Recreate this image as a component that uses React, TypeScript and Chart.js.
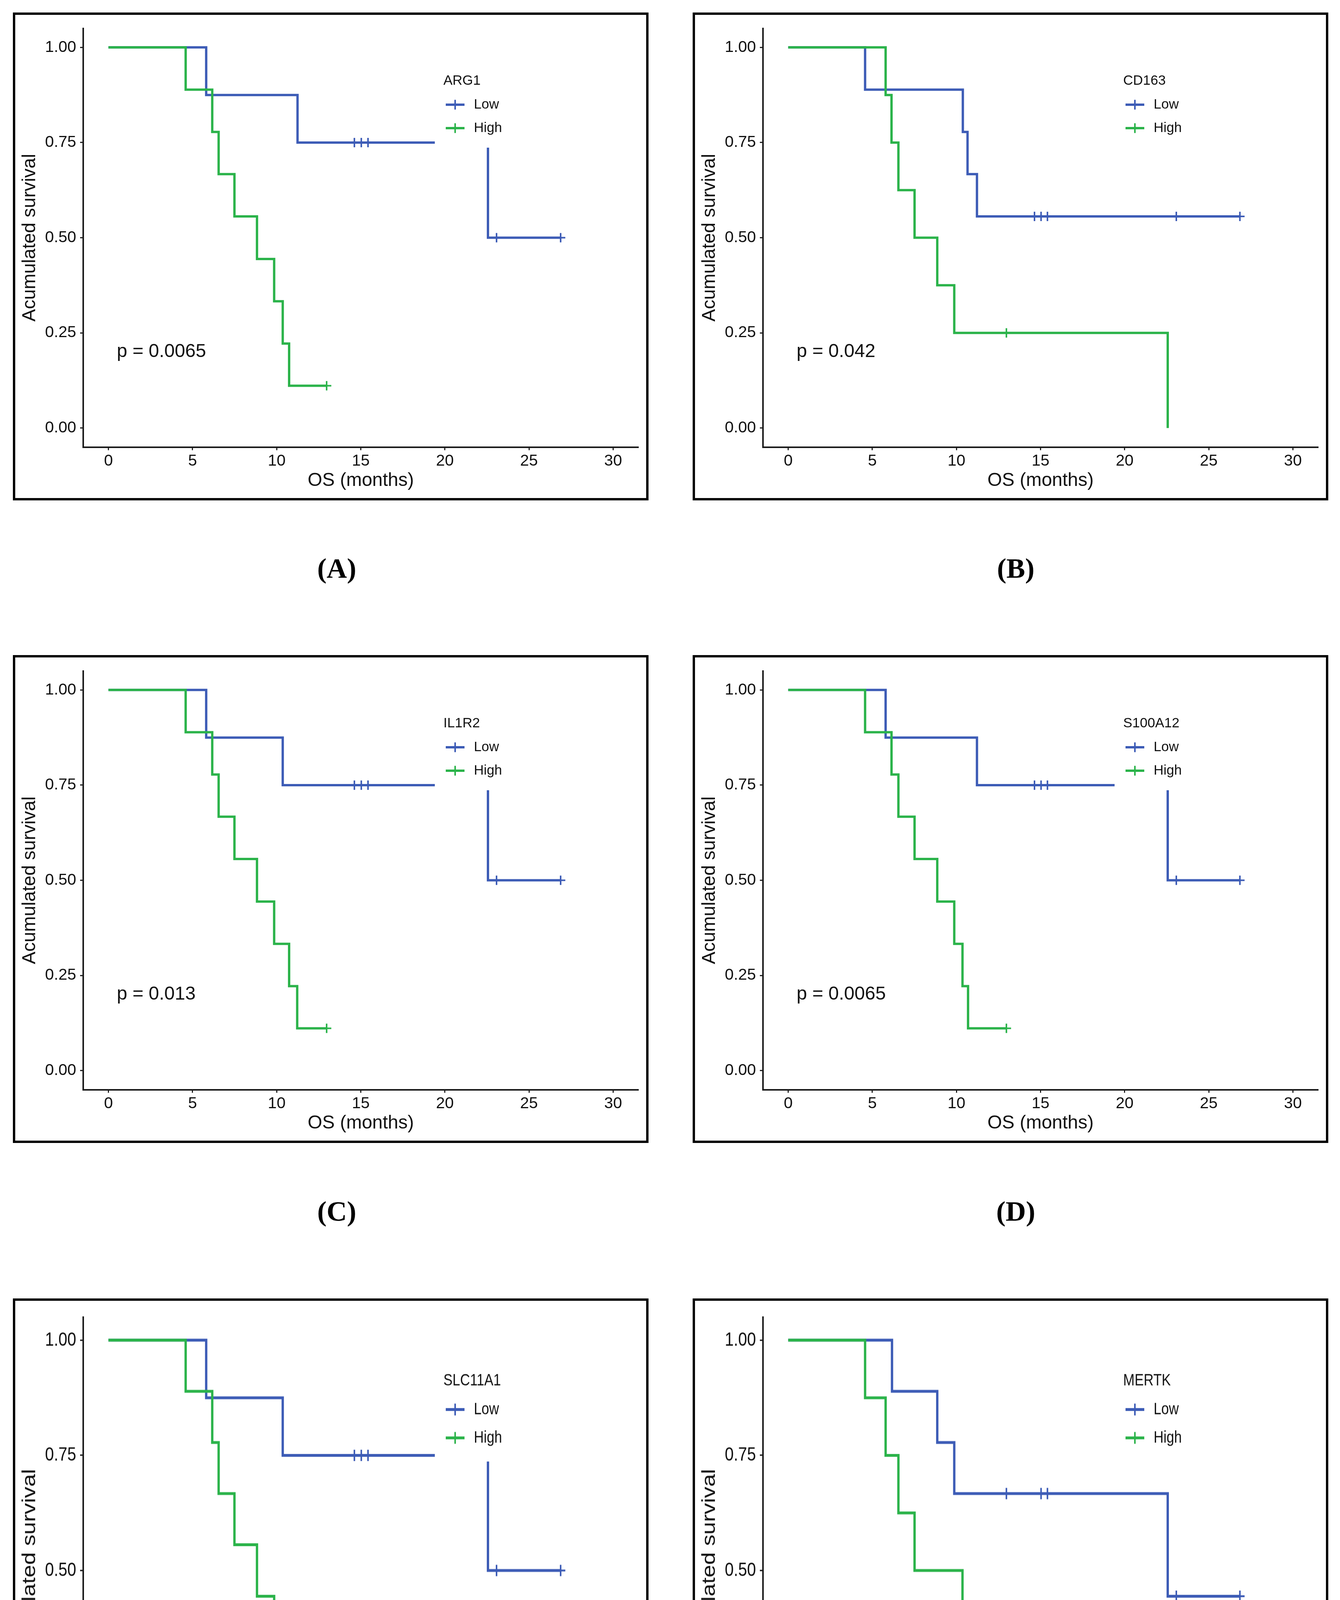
import React, { useEffect, useRef } from 'react';
import { Chart, registerables } from 'chart.js';

Chart.register(...registerables);

// ---------- shared axis content ----------
const xTicks = [0, 5, 10, 15, 20, 25, 30];
const yTicks = [0, 0.25, 0.5, 0.75, 1];
const yTickLabels = ['0.00', '0.25', '0.50', '0.75', '1.00'];
const xTitle = 'OS (months)';
const yTitle = 'Acumulated survival';
const groupLabels = ['Low', 'High'];
const panelLetters = ['(A)', '(B)', '(C)', '(D)', '(E)', '(F)'];
const markers = ['ARG1', 'CD163', 'IL1R2', 'S100A12', 'SLC11A1', 'MERTK'];
const pValues = ['p = 0.0065', 'p = 0.042', 'p = 0.013', 'p = 0.0065', 'p = 0.013', 'p = 0.036'];

// ---------- (A) ARG1 ----------
const argLowT = [0, 5.81, 11.24, 22.56, 26.88];
const argLowS = [1, 0.875, 0.75, 0.5, 0.5];
const argLowCT = [14.62, 15.03, 15.43, 23.07, 26.88];
const argLowCS = [0.75, 0.75, 0.75, 0.5, 0.5];
const argHighT = [0, 4.59, 6.17, 6.55, 7.49, 8.83, 9.85, 10.36, 10.74, 12.97];
const argHighS = [1, 0.889, 0.778, 0.667, 0.556, 0.444, 0.333, 0.222, 0.111, 0.111];
const argHighCT = [12.97];
const argHighCS = [0.111];

// ---------- (B) CD163 ----------
const cdLowT = [0, 4.57, 10.38, 10.66, 11.22, 26.85];
const cdLowS = [1, 0.889, 0.778, 0.667, 0.556, 0.556];
const cdLowCT = [14.64, 15.03, 15.41, 23.07, 26.85];
const cdLowCS = [0.556, 0.556, 0.556, 0.556, 0.556];
const cdHighT = [0, 5.79, 6.14, 6.55, 7.51, 8.86, 9.87, 22.56];
const cdHighS = [1, 0.875, 0.75, 0.625, 0.5, 0.375, 0.25, 0];
const cdHighCT = [12.97];
const cdHighCS = [0.25];

// ---------- (C) IL1R2 ----------
const ilLowT = [0, 5.81, 10.36, 22.56, 26.88];
const ilLowS = [1, 0.875, 0.75, 0.5, 0.5];
const ilLowCT = [14.62, 15.03, 15.43, 23.07, 26.88];
const ilLowCS = [0.75, 0.75, 0.75, 0.5, 0.5];
const ilHighT = [0, 4.59, 6.17, 6.55, 7.49, 8.83, 9.85, 10.74, 11.22, 12.97];
const ilHighS = [1, 0.889, 0.778, 0.667, 0.556, 0.444, 0.333, 0.222, 0.111, 0.111];
const ilHighCT = [12.97];
const ilHighCS = [0.111];

// ---------- (D) S100A12 ----------
const s1LowT = [0, 5.79, 11.22, 22.56, 26.85];
const s1LowS = [1, 0.875, 0.75, 0.5, 0.5];
const s1LowCT = [14.64, 15.03, 15.41, 23.07, 26.85];
const s1LowCS = [0.75, 0.75, 0.75, 0.5, 0.5];
const s1HighT = [0, 4.57, 6.14, 6.55, 7.51, 8.86, 9.87, 10.36, 10.69, 12.97];
const s1HighS = [1, 0.889, 0.778, 0.667, 0.556, 0.444, 0.333, 0.222, 0.111, 0.111];
const s1HighCT = [12.97];
const s1HighCS = [0.111];

// ---------- (E) SLC11A1 ----------
const slLowT = [0, 5.81, 10.36, 22.56, 26.88];
const slLowS = [1, 0.875, 0.75, 0.5, 0.5];
const slLowCT = [14.62, 15.03, 15.43, 23.07, 26.88];
const slLowCS = [0.75, 0.75, 0.75, 0.5, 0.5];
const slHighT = [0, 4.59, 6.17, 6.55, 7.49, 8.83, 9.85, 10.74, 11.22, 12.97];
const slHighS = [1, 0.889, 0.778, 0.667, 0.556, 0.444, 0.333, 0.222, 0.111, 0.111];
const slHighCT = [12.97];
const slHighCS = [0.111];

// ---------- (F) MERTK ----------
const meLowT = [0, 6.17, 8.86, 9.87, 22.56, 26.85];
const meLowS = [1, 0.889, 0.778, 0.667, 0.444, 0.444];
const meLowCT = [12.97, 15.03, 15.41, 23.07, 26.85];
const meLowCS = [0.667, 0.667, 0.667, 0.444, 0.444];
const meHighT = [0, 4.57, 5.79, 6.55, 7.51, 10.36, 10.69, 11.22, 14.67];
const meHighS = [1, 0.875, 0.75, 0.625, 0.5, 0.375, 0.25, 0.125, 0.125];
const meHighCT = [14.67];
const meHighCS = [0.125];

const BLUE = '#3D5CB6';
const GREEN = '#2BB34A';
const SANS = '"Liberation Sans", Arial, Helvetica, sans-serif';
const SERIF = '"Liberation Serif", "Times New Roman", serif';

const panels = [
  { lowT: argLowT, lowS: argLowS, lowCT: argLowCT, lowCS: argLowCS, highT: argHighT, highS: argHighS, highCT: argHighCT, highCS: argHighCS },
  { lowT: cdLowT, lowS: cdLowS, lowCT: cdLowCT, lowCS: cdLowCS, highT: cdHighT, highS: cdHighS, highCT: cdHighCT, highCS: cdHighCS },
  { lowT: ilLowT, lowS: ilLowS, lowCT: ilLowCT, lowCS: ilLowCS, highT: ilHighT, highS: ilHighS, highCT: ilHighCT, highCS: ilHighCS },
  { lowT: s1LowT, lowS: s1LowS, lowCT: s1LowCT, lowCS: s1LowCS, highT: s1HighT, highS: s1HighS, highCT: s1HighCT, highCS: s1HighCS },
  { lowT: slLowT, lowS: slLowS, lowCT: slLowCT, lowCS: slLowCS, highT: slHighT, highS: slHighS, highCT: slHighCT, highCS: slHighCS },
  { lowT: meLowT, lowS: meLowS, lowCT: meLowCT, lowCS: meLowCS, highT: meHighT, highS: meHighS, highCT: meHighCT, highCS: meHighCS },
];

const CANVAS_W = 1615;
const CANVAS_H = 1237;
const BORDER = 6;

const toPts = (t: number[], s: number[]) => t.map((x, i) => ({ x, y: s[i] }));

const kmDecor = {
  id: 'kmDecor',
  afterDatasetsDraw(chart: any, _args: any, opts: any) {
    const { ctx } = chart;
    ctx.save();
    // legend background (occludes curves like the ggplot legend box)
    ctx.fillStyle = '#ffffff';
    ctx.fillRect(1074, 100, 260, 240);
    ctx.fillStyle = '#111';
    ctx.textBaseline = 'middle';
    ctx.textAlign = 'left';
    ctx.font = `35px ${SANS}`;
    ctx.fillText(opts.title, 1096, 169);
    const rows = [
      { y: 230, color: BLUE, label: groupLabels[0] },
      { y: 290, color: GREEN, label: groupLabels[1] },
    ];
    rows.forEach((r) => {
      ctx.strokeStyle = r.color;
      ctx.lineWidth = 6;
      ctx.beginPath();
      ctx.moveTo(1102, r.y);
      ctx.lineTo(1150, r.y);
      ctx.stroke();
      ctx.lineWidth = 4;
      ctx.beginPath();
      ctx.moveTo(1126, r.y - 12.5);
      ctx.lineTo(1126, r.y + 12.5);
      ctx.stroke();
      ctx.fillStyle = '#111';
      ctx.fillText(r.label, 1174, r.y);
    });
    // p-value
    const px = chart.scales.x.getPixelForValue(0.5);
    const py = chart.scales.y.getPixelForValue(0.2);
    ctx.font = `48px ${SANS}`;
    ctx.fillStyle = '#111';
    ctx.fillText(opts.pval, px, py);
    ctx.restore();
  },
};

function KMPanel({ idx, left, top, innerH }: { idx: number; left: number; top: number; innerH: number }) {
  const ref = useRef<HTMLCanvasElement | null>(null);
  useEffect(() => {
    const p = panels[idx];
    const lineCommon = { borderWidth: 6, stepped: 'before' as const, pointRadius: 0, fill: false, tension: 0 };
    const censorCommon = { showLine: false, pointStyle: 'cross' as const, pointRadius: 12, pointHoverRadius: 12, pointBorderWidth: 4 };
    const chart = new Chart(ref.current as HTMLCanvasElement, {
      type: 'line',
      data: {
        datasets: [
          { ...censorCommon, data: toPts(p.highCT, p.highCS), borderColor: GREEN, pointBorderColor: GREEN, backgroundColor: GREEN },
          { ...censorCommon, data: toPts(p.lowCT, p.lowCS), borderColor: BLUE, pointBorderColor: BLUE, backgroundColor: BLUE },
          { ...lineCommon, data: toPts(p.highT, p.highS), borderColor: GREEN, backgroundColor: GREEN },
          { ...lineCommon, data: toPts(p.lowT, p.lowS), borderColor: BLUE, backgroundColor: BLUE },
        ],
      },
      options: {
        animation: false,
        responsive: false,
        devicePixelRatio: 1,
        events: [],
        layout: { padding: { left: 0, top: 17.5, right: 20, bottom: 0 } },
        plugins: {
          legend: { display: false },
          tooltip: { enabled: false },
          kmDecor: { title: markers[idx], pval: pValues[idx] },
        } as any,
        scales: {
          x: {
            type: 'linear',
            min: -1.5,
            max: 31.5,
            afterFit: (s: any) => { s.height = 130.5; },
            afterBuildTicks: (s: any) => { s.ticks = xTicks.map((v) => ({ value: v })); },
            ticks: {
              autoSkip: false,
              maxRotation: 0,
              padding: 4,
              color: '#111',
              font: { family: SANS, size: 41 },
              callback: (_v: any, i: number) => String(xTicks[i]),
            },
            grid: { drawOnChartArea: false, drawTicks: true, tickLength: 8, tickWidth: 3, tickColor: '#222' },
            border: { display: true, color: '#1a1a1a', width: 4 },
            title: { display: true, text: xTitle, color: '#111', font: { family: SANS, size: 48 }, padding: { top: 0, bottom: 15 } },
          },
          y: {
            type: 'linear',
            min: -0.05,
            max: 1.05,
            afterFit: (s: any) => { s.width = 174; },
            afterBuildTicks: (s: any) => { s.ticks = yTicks.map((v) => ({ value: v })); },
            ticks: {
              autoSkip: false,
              padding: 10,
              color: '#111',
              font: { family: SANS, size: 41 },
              callback: (_v: any, i: number) => yTickLabels[i],
            },
            grid: { drawOnChartArea: false, drawTicks: true, tickLength: 8, tickWidth: 3, tickColor: '#222' },
            border: { display: true, color: '#1a1a1a', width: 4 },
            title: { display: true, text: yTitle, color: '#111', font: { family: SANS, size: 48 }, padding: { top: 9, bottom: 0 } },
          },
        },
      },
      plugins: [kmDecor],
    });
    return () => chart.destroy();
  }, [idx]);

  const k = innerH / CANVAS_H;
  return (
    <div
      style={{
        position: 'absolute',
        left,
        top,
        width: CANVAS_W,
        height: innerH,
        border: `${BORDER}px solid #000`,
        overflow: 'hidden',
        background: '#fff',
      }}
    >
      <canvas
        ref={ref}
        width={CANVAS_W}
        height={CANVAS_H}
        style={{ display: 'block', transform: `scaleY(${k})`, transformOrigin: '0 0' }}
      />
    </div>
  );
}

function Letter({ text, cx, cy }: { text: string; cx: number; cy: number }) {
  return (
    <div
      style={{
        position: 'absolute',
        left: cx - 200,
        top: cy - 40,
        width: 400,
        height: 80,
        lineHeight: '80px',
        textAlign: 'center',
        fontFamily: SERIF,
        fontWeight: 'bold',
        fontSize: 72,
        color: '#000',
      }}
    >
      {text}
    </div>
  );
}

export default function App() {
  const colLeft = [33, 1773];
  const rowTop = [32, 1677, 3324];
  const rowInnerH = [1237, 1237, 1497];
  const letterY = [1455, 3101, 5001];
  const letterX = [862, 2600];
  return (
    <div style={{ position: 'absolute', left: 0, top: 0, width: 3430, height: 5079, background: '#fff', overflow: 'hidden' }}>
      {panels.map((_, i) => {
        const r = Math.floor(i / 2);
        const c = i % 2;
        return (
          <React.Fragment key={i}>
            <KMPanel idx={i} left={colLeft[c]} top={rowTop[r]} innerH={rowInnerH[r]} />
            <Letter text={panelLetters[i]} cx={letterX[c]} cy={letterY[r]} />
          </React.Fragment>
        );
      })}
    </div>
  );
}
